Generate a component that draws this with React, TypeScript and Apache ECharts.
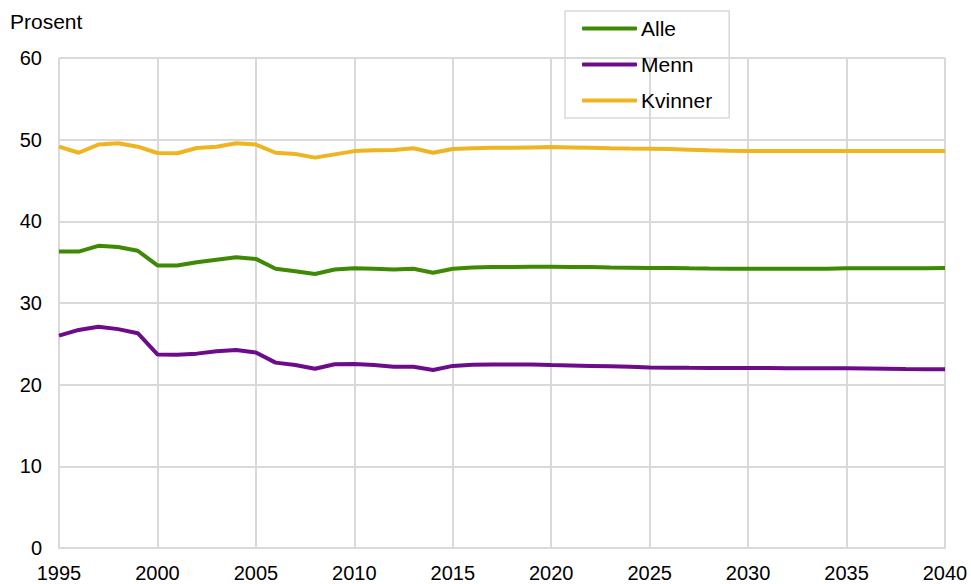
import React, { useEffect, useRef } from "react";
import * as echarts from "echarts";

const years: number[] = [];
for (let y = 1995; y <= 2040; y++) years.push(y);

const alle = [
  36.3, 36.3, 37.0, 36.85, 36.4, 34.6, 34.6, 35.0, 35.3, 35.6,
  35.4, 34.2, 33.9, 33.55, 34.1, 34.25, 34.2, 34.1, 34.2, 33.7,
  34.2, 34.35, 34.4, 34.42, 34.45, 34.45, 34.42, 34.4, 34.35, 34.33,
  34.3, 34.3, 34.25, 34.22, 34.2, 34.2, 34.2, 34.2, 34.2, 34.2,
  34.25, 34.25, 34.25, 34.25, 34.25, 34.3,
];
const menn = [
  26.0, 26.7, 27.1, 26.8, 26.3, 23.7, 23.65, 23.8, 24.1, 24.25,
  23.95, 22.7, 22.4, 21.95, 22.5, 22.53, 22.4, 22.2, 22.2, 21.8,
  22.3, 22.45, 22.48, 22.48, 22.48, 22.4, 22.35, 22.3, 22.25, 22.2,
  22.1, 22.08, 22.06, 22.05, 22.04, 22.04, 22.03, 22.02, 22.0, 22.0,
  22.0, 21.98, 21.95, 21.92, 21.9, 21.88,
];
const kvinner = [
  49.14, 48.4, 49.4, 49.55, 49.14, 48.37, 48.33, 48.98, 49.14, 49.55,
  49.4, 48.4, 48.24, 47.8, 48.2, 48.6, 48.7, 48.73, 48.94, 48.4,
  48.86, 48.95, 49.0, 49.0, 49.05, 49.1, 49.05, 49.0, 48.95, 48.92,
  48.9, 48.85, 48.78, 48.7, 48.65, 48.62, 48.6, 48.6, 48.6, 48.6,
  48.6, 48.6, 48.6, 48.6, 48.6, 48.6,
];

const seriesNames = ["Alle", "Menn", "Kvinner"];
const colors = ["#3f8a05", "#6c0c8a", "#efb521"];

export default function App() {
  const ref = useRef<HTMLDivElement>(null);
  useEffect(() => {
    if (!ref.current) return;
    const chart = echarts.init(ref.current, null, { renderer: "svg" });
    const dataSets = [alle, menn, kvinner];
    const font = "'Liberation Sans', Arial, sans-serif";
    chart.setOption({
      animation: false,
      textStyle: { fontFamily: font },
      grid: { left: 59, right: 26, top: 58, bottom: 36 },
      graphic: [
        {
          type: "text",
          left: 10,
          top: 11,
          style: { text: "Prosent", fontSize: 21, fontFamily: font, fill: "#000" },
        },
      ],
      legend: {
        orient: "vertical",
        left: 565,
        top: 11,
        data: seriesNames,
        icon: "roundRect",
        itemWidth: 55,
        itemHeight: 4,
        itemGap: 15,
        padding: [7, 17, 7, 17],
        borderColor: "#d9d9d9",
        borderWidth: 1.5,
        textStyle: { fontSize: 21, fontFamily: font, color: "#000", lineHeight: 21, padding: [0, 0, 0, -1] },
      },
      xAxis: {
        type: "value",
        min: 1995,
        max: 2040,
        interval: 5,
        axisLine: { show: true, lineStyle: { color: "#d9d9d9", width: 2 } },
        axisTick: { show: false },
        splitLine: { show: true, lineStyle: { color: "#d9d9d9", width: 2 } },
        axisLabel: { color: "#000", fontSize: 20, fontFamily: font, margin: 15, formatter: (v: number) => String(v) },
      },
      yAxis: {
        type: "value",
        min: 0,
        max: 60,
        interval: 10,
        axisLine: { show: false },
        axisTick: { show: false },
        splitLine: { show: true, lineStyle: { color: "#d9d9d9", width: 2 } },
        axisLabel: { color: "#000", fontSize: 20, fontFamily: font, margin: 17 },
      },
      series: seriesNames.map((name, i) => ({
        name,
        type: "line",
        showSymbol: false,
        symbol: "none",
        color: colors[i],
        lineStyle: { color: colors[i], width: 4 },
        data: years.map((y, j) => [y, dataSets[i][j]]),
      })),
    });
    return () => chart.dispose();
  }, []);
  return (
    <div
      ref={ref}
      style={{ position: "fixed", left: 0, top: 0, width: 971, height: 584, background: "#fff" }}
    />
  );
}
